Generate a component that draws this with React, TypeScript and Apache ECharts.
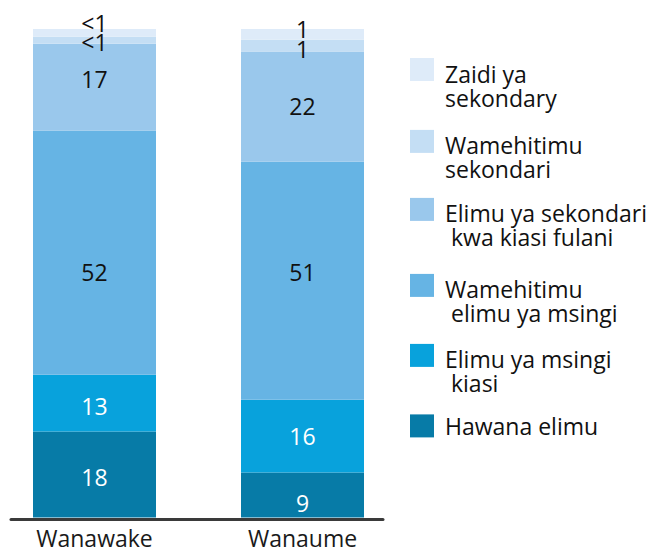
import React, { useEffect, useRef } from 'react';
import * as echarts from 'echarts';

// Categories (x axis); an empty slot sits between the two bars
const categories = ['Wanawake', 'Wanaume'];

// Series (bottom to top of the stack)
const seriesNames = [
  'Hawana elimu',
  'Elimu ya msingi kiasi',
  'Wamehitimu elimu ya msingi',
  'Elimu ya sekondari kwa kiasi fulani',
  'Wamehitimu sekondari',
  'Zaidi ya sekondary',
];
const legendLines = [
  ['Hawana elimu'],
  ['Elimu ya msingi', ' kiasi'],
  ['Wamehitimu', ' elimu ya msingi'],
  ['Elimu ya sekondari', ' kwa kiasi fulani'],
  ['Wamehitimu', 'sekondari'],
  ['Zaidi ya', 'sekondary'],
];

// Segment heights (percent)
const hawanaElimu = [17.6, 9.2];
const msingiKiasi = [11.6, 14.9];
const msingiHitimu = [50.0, 48.7];
const sekondariKiasi = [17.8, 22.6];
const sekondariHitimu = [1.4, 2.4];
const zaidiSekondari = [1.6, 2.2];

// Printed labels
const hawanaElimuLabels = ['18', '9'];
const msingiKiasiLabels = ['13', '16'];
const msingiHitimuLabels = ['52', '51'];
const sekondariKiasiLabels = ['17', '22'];
const sekondariHitimuLabels = ['<1', '1'];
const zaidiSekondariLabels = ['<1', '1'];

const seriesValues = [hawanaElimu, msingiKiasi, msingiHitimu, sekondariKiasi, sekondariHitimu, zaidiSekondari];
const seriesLabels = [
  hawanaElimuLabels,
  msingiKiasiLabels,
  msingiHitimuLabels,
  sekondariKiasiLabels,
  sekondariHitimuLabels,
  zaidiSekondariLabels,
];

const colors = ['#077ba7', '#08a2dc', '#66b4e4', '#9ac8ec', '#c4def4', '#deebf9'];
const labelColors = ['#ffffff', '#ffffff', '#111111', '#111111', '#111111', '#111111'];
// vertical nudges of the in-bar labels
const labelDy = [
  [2, 7.5],
  [3, 0],
  [19, -9],
  [-8.5, -1],
  [1.5, 3],
  [-10, -5],
];
// legend icon centre y for each series
const legendIconY = [426.4, 355.4, 285.4, 209.4, 141.4, 69.5];

const FONT = 'Open Sans';

export default function App() {
  const ref = useRef<HTMLDivElement>(null);

  useEffect(() => {
    if (!ref.current) return;
    const chart = echarts.init(ref.current, undefined, { renderer: 'svg' });

    // place the two bars in slots 0 and 2 of a three-slot category axis
    const axisCats = [categories[0], '', categories[1]];
    const toSlots = (arr: any[]) => [arr[0], '-', arr[1]];

    const series = seriesNames.map((name, si) => ({
      name,
      type: 'bar',
      stack: 'total',
      barWidth: 123,
      clip: false,
      xAxisIndex: 0,
      yAxisIndex: 0,
      itemStyle: { color: colors[si] },
      emphasis: { disabled: true },
      data: toSlots(
        seriesValues[si].map((v, ci) => ({
          value: v,
          label: { offset: [0, labelDy[si][ci]], formatter: seriesLabels[si][ci] },
        }))
      ),
      label: {
        show: true,
        position: 'inside',
        color: labelColors[si],
        fontFamily: FONT,
        fontSize: 23,
      },
    }));

    const legends = seriesNames.map((name, si) => {
      const lines = legendLines[si];
      const twoLine = lines.length > 1;
      return {
        show: true,
        orient: 'vertical',
        left: 410,
        top: twoLine ? legendIconY[si] - 11.5 : legendIconY[si] - 12,
        padding: 0,
        itemWidth: 24,
        itemHeight: 23,
        icon: 'rect',
        selectedMode: false,
        data: [name],
        formatter: () => lines.map((l) => '{t|' + l + '}').join('\n'),
        textStyle: {
          padding: twoLine ? [32, 0, 0, 6] : [0, 0, 0, 6],
          rich: {
            t: {
              fontFamily: FONT,
              fontSize: 23,
              lineHeight: 24,
              color: '#111111',
            },
          },
        },
      };
    });

    chart.setOption({
      animation: false,
      legend: legends,
      grid: [
        { left: 42.5, right: 299.5, top: 29, bottom: 34.5 },
        { left: 11, right: 271, top: 29, bottom: 32.8 },
      ],
      xAxis: [
        {
          type: 'category',
          gridIndex: 0,
          data: axisCats,
          axisLine: { show: false },
          axisTick: { show: false },
          axisLabel: { interval: 0, fontFamily: FONT, fontSize: 23, color: '#1a1a1a', margin: 9 },
        },
        {
          type: 'value',
          gridIndex: 1,
          min: 0,
          max: 1,
          axisLine: { show: true, lineStyle: { color: '#3a3a3a', width: 3 } },
          axisTick: { show: false },
          axisLabel: { show: false },
          splitLine: { show: false },
        },
      ],
      yAxis: [
        { type: 'value', gridIndex: 0, min: 0, max: 100, show: false },
        { type: 'value', gridIndex: 1, min: 0, max: 1, show: false },
      ],
      series,
    });

    return () => chart.dispose();
  }, []);

  return (
    <div
      ref={ref}
      style={{ position: 'absolute', left: 0, top: 0, width: 654, height: 552, background: '#ffffff' }}
    />
  );
}
